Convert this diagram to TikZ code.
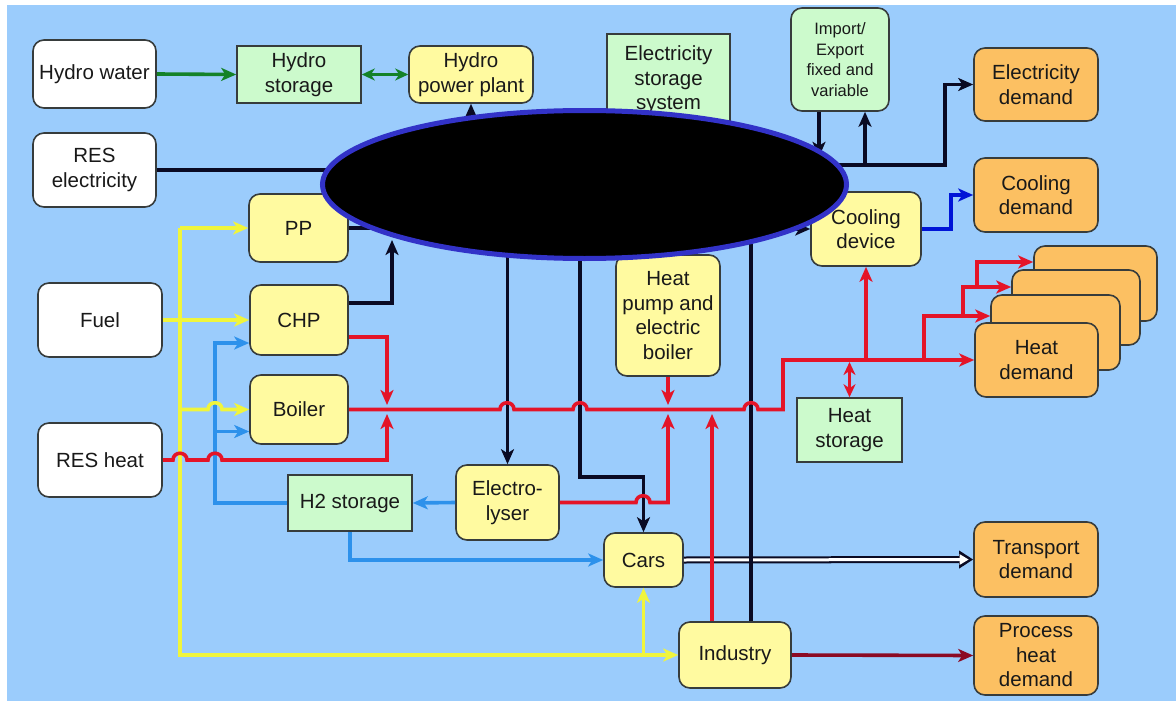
\documentclass[tikz,border=0pt]{standalone}
\usepackage{fontspec}
\setmainfont{Liberation Sans}
\usetikzlibrary{arrows.meta,shapes.geometric}
\definecolor{bgblue}{RGB}{155,204,252}
\definecolor{bxyel}{RGB}{255,250,160}
\definecolor{bxgreen}{RGB}{204,250,204}
\definecolor{bxorange}{RGB}{252,192,98}
\definecolor{edgegray}{RGB}{55,60,60}
\definecolor{txtcol}{RGB}{25,25,25}
\definecolor{lgreen}{RGB}{20,130,40}
\definecolor{lblack}{RGB}{10,10,35}
\definecolor{lred}{RGB}{228,20,40}
\definecolor{lyel}{RGB}{240,245,60}
\definecolor{lblue}{RGB}{45,145,235}
\definecolor{cblue}{RGB}{0,20,215}
\definecolor{dred}{RGB}{140,10,35}
\definecolor{ringblue}{RGB}{50,50,200}
\begin{document}
\begin{tikzpicture}[x=1pt,y=-1pt,
  nbox/.style={draw=edgegray, line width=1.6pt, text=txtcol, align=center, inner sep=0pt, font=\fontsize{20.5}{24.5}\selectfont},
  rbox/.style={nbox, rounded corners=11pt},
  whitebox/.style={rbox, fill=white},
  yelbox/.style={rbox, fill=bxyel},
  greenbox/.style={nbox, fill=bxgreen},
  rgreenbox/.style={rbox, fill=bxgreen},
  orbox/.style={rbox, fill=bxorange},
  sz/.style 2 args={minimum width=#1pt, minimum height=#2pt},
  conn/.style={line width=3.6pt},
  arrowend/.style={-{Stealth[length=15pt,width=13pt,inset=4pt]}},
  darr/.style={{Stealth[length=13pt,width=12pt,inset=4pt]}-{Stealth[length=13pt,width=12pt,inset=4pt]}}
]
\useasboundingbox (0,0) rectangle (1176,701);
\fill[white] (0,0) rectangle (1176,701);
\fill[bgblue] (7,5) rectangle (1176,701);

\coordinate (blobc) at (584.5,184.5);

% nodes
\node[whitebox, sz={123}{68}] (hw) at (94.5,74) {Hydro water};
\node[greenbox, sz={124}{57}] (hs) at (299,74.5) {Hydro\\storage};
\node[yelbox, sz={124}{57}] (hpp) at (471,74.5) {Hydro\\power plant};
\node[greenbox, sz={123}{92}] (ess) at (668.5,80) {Electricity\\storage\\system};
\node[rgreenbox, sz={98}{103}, font=\fontsize{16.5}{20.5}\selectfont] (ie) at (840,59.5) {Import/\\Export\\fixed and\\variable};
\node[orbox, sz={124}{73}] (ed) at (1036,84.5) {Electricity\\demand};
\node[orbox, sz={124}{74}] (cd) at (1036,195) {Cooling\\demand};
\node[whitebox, sz={123}{74}] (rese) at (94.5,170) {RES\\electricity};
\node[yelbox, sz={99}{68}] (pp) at (298.5,228) {PP};
\node[whitebox, sz={124}{74}] (fuel) at (100,320) {Fuel};
\node[yelbox, sz={98}{70}] (chp) at (299,320) {CHP};
\node[yelbox, sz={98}{69}] (boiler) at (299,409.5) {Boiler};
\node[whitebox, sz={124}{74}] (resh) at (100,460) {RES heat};
\node[greenbox, sz={124}{56}] (h2) at (350,503) {H2 storage};
\node[yelbox, sz={103}{75}] (el) at (507.5,502.5) {Electro-\\lyser};
\node[yelbox, sz={104}{121}] (hp) at (668,315.5) {Heat\\pump and\\electric\\boiler};
\node[yelbox, sz={110}{74}] (cool) at (866,229) {Cooling\\device};
\node[greenbox, sz={105}{64}] (hst) at (849.5,430) {Heat\\storage};
\node[yelbox, sz={79}{54}] (cars) at (643.5,560) {Cars};
\node[yelbox, sz={112}{66}] (ind) at (735,655) {Industry};
\node[orbox, sz={124}{75}] (td) at (1036,559.5) {Transport\\demand};
\node[orbox, sz={124}{79}] (phd) at (1036,655.5) {Process\\heat\\demand};
\node[orbox, sz={123}{75}] (hd4) at (1095.5,283.5) {};
\node[orbox, sz={128}{75}] (hd3) at (1076,307.5) {};
\node[orbox, sz={129}{75}] (hd2) at (1055.5,332.5) {};
\node[orbox, sz={123}{74}] (hd) at (1036.5,360) {Heat\\demand};

% junction coordinates
\coordinate (yx) at (180,0);
\coordinate (bx) at (215,343);
\coordinate (chpin) at (392,240);
\coordinate (carsdrop) at (580,477);

% hydro
\draw[conn, lgreen, arrowend] (hw.east) -- (hs.west);
\draw[conn, lgreen, darr] (hs.east) -- (hpp.west);
\draw[conn, lblack, arrowend] (hpp.south |- blobc) -- (hpp.south);

% electricity lines
\draw[conn, lblack] (rese.east) -- (rese.east -| blobc);
\draw[conn, lblack] (pp.east) -- (pp.east -| blobc);
\draw[conn, lblack, arrowend] ([yshift=17pt]chp.east) -| (chpin);
\draw[conn, lblack, arrowend] ([xshift=-21pt]ie.south) -- ++(0,45);
\draw[conn, lblack, arrowend] (865,165) -- ([xshift=25pt]ie.south);
\draw[conn, lblack, arrowend] (820,165) -- (945,165) |- (ed.west);
\draw[conn, lblack, arrowend] ([xshift=-30pt]cool.west) -- (cool.west);
\draw[conn, cblue, arrowend] (cool.east) -- (951,229) |- (cd.west);
\draw[conn, lblack, arrowend] (el.north |- blobc) -- (el.north);
\draw[conn, lblack, arrowend] (carsdrop |- blobc) -- (carsdrop) -| (cars.north);

% transport (double line)
\draw[line width=7pt, lblack, -{Triangle[length=14pt,width=17pt]}] (cars.east) -- (td.west);
\draw[line width=3pt, white, -{Triangle[length=9pt,width=10pt]}] (cars.east) -- ([xshift=-4.5pt]td.west);
\draw[conn, lblack] (751,0 |- ind.north) -- (751,200);

% fuel (yellow)
\draw[conn, lyel, arrowend] (yx |- pp.west) -- (pp.west);
\draw[conn, lyel, arrowend] (yx |- pp.west) -- (yx |- ind.west) -- (ind.west);
\draw[conn, lyel, arrowend] (fuel.east) -- (chp.west);
\draw[conn, lyel, arrowend] (cars.south |- ind.west) -- (cars.south);

% hydrogen (blue)
\draw[conn, lblue, arrowend] (h2.west) -| (bx) -- ([yshift=-23pt]chp.west);
\draw[conn, lblue, arrowend] (bx |- 0,431.5) -- ([yshift=-22pt]boiler.west);
\draw[conn, lblue, arrowend] (el.west) -- (h2.east);
\draw[conn, lblue, arrowend] (h2.south) |- (cars.west);

\draw[conn, lyel, arrowend] (yx |- boiler.west) -- (208,409.5) .. controls (208,400.5) and (222,400.5) .. (222,409.5) -- (boiler.west);

% heat (red)
\draw[conn, lred, arrowend] ([yshift=-17pt]chp.east) -| (387,405);
\draw[conn, lred, arrowend] (boiler.east) -- (500,409.5) .. controls (500,400.5) and (514,400.5) .. (514,409.5) -- (573,409.5) .. controls (573,400.5) and (587,400.5) .. (587,409.5) -- (744,409.5) .. controls (744,400.5) and (758,400.5) .. (758,409.5) -- (783,409.5) -- (783,360) -- (hd.west);
\draw[conn, lred, arrowend] (resh.east) -- (173,460) .. controls (173,451) and (187,451) .. (187,460) -- (208,460) .. controls (208,451) and (222,451) .. (222,460) -- (387,460) -- (387,414);
\draw[conn, lred, arrowend] (hp.south) -- (668,405);
\draw[conn, lred, arrowend] (el.east) -- (636,502.5) .. controls (636,493.5) and (650,493.5) .. (650,502.5) -- (668,502.5) -- (668,414);
\draw[conn, lred, arrowend] (712,0 |- ind.north) -- (712,414);
\draw[conn, lred, arrowend] (cool.south |- hd.west) -- (cool.south);
\draw[conn, lred, darr] (849.5,362) -- (hst.north);
\draw[conn, lred, arrowend] (924,360) |- ([yshift=16.5pt]hd2.west);
\draw[conn, lred, arrowend] (963,316) |- ([yshift=20.5pt]hd3.west);
\draw[conn, lred, arrowend] (977,287) |- ([yshift=21.5pt]hd4.west);
\draw[conn, dred, arrowend] (ind.east) -- (phd.west);

% occluding ellipse
\node[ellipse, draw=ringblue, line width=5pt, fill=black, minimum width=524pt, minimum height=148pt, inner sep=0pt] (blob) at (blobc) {};
\end{tikzpicture}
\end{document}
